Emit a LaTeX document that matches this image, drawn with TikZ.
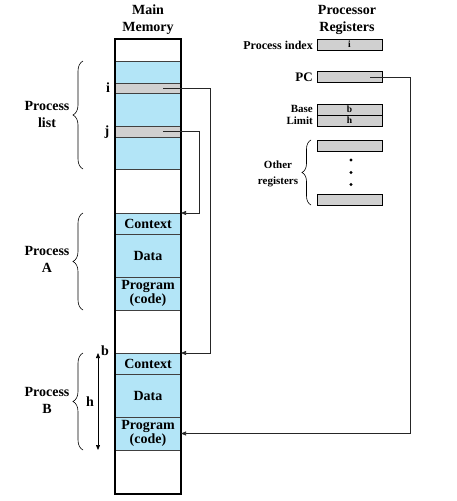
\documentclass[tikz,border=0pt]{standalone}
\usepackage{fontspec}
\setmainfont{Liberation Serif}
\usetikzlibrary{arrows.meta,decorations.pathreplacing}
\definecolor{memblue}{RGB}{179,229,247}
\definecolor{reggray}{RGB}{208,208,208}
\tikzset{
  seg/.style={draw=black!75, line width=0.6pt, minimum width=66pt, inner sep=0pt, outer sep=0pt,
    font=\bfseries\fontsize{14}{13.5}\selectfont, align=center},
  blueseg/.style={seg, fill=memblue},
  whiteseg/.style={seg, fill=white},
  grayseg/.style={seg, fill=reggray},
  reg/.style={draw=black, line width=0.8pt, fill=reggray, minimum width=65pt, minimum height=11pt,
    inner sep=0pt, font=\bfseries\fontsize{9.5}{9.5}\selectfont},
  lbl/.style={font=\bfseries\fontsize{14}{17}\selectfont, align=center, inner sep=0pt},
  small/.style={font=\bfseries\fontsize{11}{15.5}\selectfont, align=center, inner sep=0pt},
  link/.style={line width=0.7pt, black!85, -{Triangle[length=5pt,width=4pt]}},
  brc/.style={decorate, decoration={brace, amplitude=10pt}, line width=0.6pt},
}
\begin{document}
\begin{tikzpicture}[x=1pt,y=-1pt]
\useasboundingbox (0,0) rectangle (456,501);
% titles
\node[lbl] (tmem) at (148,20) {Main\\Memory};
\node[lbl] (treg) at (347,20) {Processor\\Registers};
% memory segments
\node[whiteseg, minimum height=22pt] (w0) at (148,50) {};
\node[blueseg, minimum height=22pt] (pl1) at (148,72) {};
\node[grayseg, minimum height=10pt] (rowi) at (148,88) {};
\node[blueseg, minimum height=33pt] (pl2) at (148,109.5) {};
\node[grayseg, minimum height=11pt] (rowj) at (148,131.5) {};
\node[blueseg, minimum height=32pt] (pl3) at (148,153) {};
\node[whiteseg, minimum height=44pt] (w1) at (148,191) {};
\node[blueseg, minimum height=21pt] (ctxA) at (148,223.5) {Context};
\node[blueseg, minimum height=43pt] (datA) at (148,255.5) {Data};
\node[blueseg, minimum height=33pt] (prgA) at (148,293.5) {Program\\(code)};
\node[whiteseg, minimum height=43pt] (w2) at (148,331.5) {};
\node[blueseg, minimum height=21pt] (ctxB) at (148,363.5) {Context};
\node[blueseg, minimum height=43pt] (datB) at (148,395.5) {Data};
\node[blueseg, minimum height=33pt] (prgB) at (148,433.5) {Program\\(code)};
\node[whiteseg, minimum height=44pt] (w3) at (148,472) {};
\draw[line width=1.8pt] (115,39) rectangle (181,494);
% memory labels
\node[lbl] (li) at (108,88) {i};
\node[lbl] (lj) at (107,132) {j};
\node[lbl] (lpl) at (47,114) {Process\\list};
\node[lbl] (lpa) at (47,259) {Process\\A};
\node[lbl] (lpb) at (47,400) {Process\\B};
\draw[brc] (83,169) -- (83,61);
\draw[brc] (83,310) -- (83,213);
\draw[brc] (83,450) -- (83,353);
\coordinate (bt) at (98,353);
\coordinate (bb) at (98,450);
\draw[line width=0.7pt, {Triangle[length=5pt,width=4pt]}-{Triangle[length=5pt,width=4pt]}] (bt) -- (bb);
\node[lbl] (lb) at (105,351) {b};
\node[lbl] (lh) at (90,402) {h};
% links
\coordinate (is) at (163,88);
\coordinate (js) at (163,131.5);
\draw[link] (is) -- (210,88) -- (210,353) -- (ctxB.north east);
\draw[link] (js) -- (199,131.5) -- (199,213) -- (ctxA.north east);
% registers
\node[reg] (rpi) at (349.5,44.5) {i};
\node[reg] (rpc) at (349.5,77) {};
\node[reg] (rbase) at (349.5,109.5) {b};
\node[reg] (rlim) at (349.5,120.5) {h};
\node[reg] (ro1) at (349.5,145.5) {};
\node[reg] (ro2) at (349.5,199.5) {};
\node[small, anchor=east, font=\bfseries\fontsize{12}{12}\selectfont] (lpi) at (313,45) {Process index};
\node[small, anchor=east, font=\bfseries\fontsize{13}{13}\selectfont] (lpc) at (313,77) {PC};
\node[small, anchor=east] (lbase) at (313,109) {Base};
\node[small, anchor=east] (llim) at (313,121) {Limit};
\node[small] (lother) at (278,174) {Other\\registers};
\draw[brc, decoration={brace, amplitude=9pt}] (311,205) -- (311,140);
\fill (351,160) circle (1.6pt) (351,172.5) circle (1.6pt) (351,184.5) circle (1.6pt);
\coordinate (pcs) at (370,77);
\draw[link] (pcs) -- (410,77) -- (410,433.5) -- (prgB.east);
\end{tikzpicture}
\end{document}
